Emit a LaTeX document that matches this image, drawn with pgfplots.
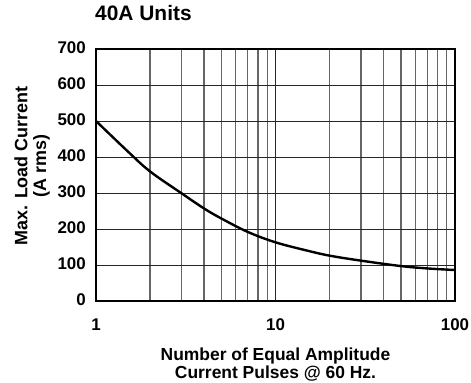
\documentclass[border=0pt]{standalone}
\usepackage{fontspec}
\setmainfont{Liberation Sans}
\usepackage{pgfplots}
\pgfplotsset{compat=1.18}
\pgfplotstableread{
x y
1 500
1.5 416
2 360
3 299
4 257
5 229
7 192
10 163
15 140
20 126
30 112
50 97
70 90.5
100 86
}\curvedata
\begin{document}
\begin{tikzpicture}
\useasboundingbox (0,0) rectangle (471bp,383bp);
\begin{axis}[
  at={(96bp,82bp)}, anchor=south west,
  scale only axis, width=359bp, height=252bp,
  xmode=log, xmin=1, xmax=100, ymin=0, ymax=700,
  xtick={1,10,100}, xticklabels={1,10,100},
  ytick={0,100,...,700},
  grid=both,
  major tick length=0pt, minor tick length=0pt,
  axis line style={black, line width=1.2bp},
  major grid style={black!85, line width=1bp},
  minor grid style={black!60, line width=1.3bp},
  /pgf/number format/assume math mode=true,
  tick label style={font=\fontsize{17}{19}\selectfont\bfseries, inner sep=0pt},
  xticklabel style={anchor=base, yshift=-29bp},
  yticklabel style={anchor=east, xshift=-10bp, yshift=1.5bp},
  title={40A Units},
  title style={at={(0,1)}, anchor=base west, yshift=23bp, xshift=-1bp, inner sep=0pt, font=\fontsize{21}{24}\selectfont\bfseries},
  xlabel={Number of Equal Amplitude\\Current Pulses @ 60 Hz.},
  xlabel style={at={(axis description cs:0.5,0)}, anchor=north, yshift=-47bp, align=center, inner sep=0pt, font=\fontsize{17.5}{18.2}\selectfont\bfseries},
  ylabel={Max. Load Current\\(A rms)},
  ylabel style={at={(axis description cs:-0.128,0.536)}, anchor=south, rotate=0, align=center, inner sep=0pt, font=\fontsize{18}{18.8}\selectfont\bfseries},
]
\addplot[black, line width=2.4bp, smooth, tension=0.6] table[x=x, y=y] {\curvedata};
\end{axis}
\end{tikzpicture}
\end{document}
